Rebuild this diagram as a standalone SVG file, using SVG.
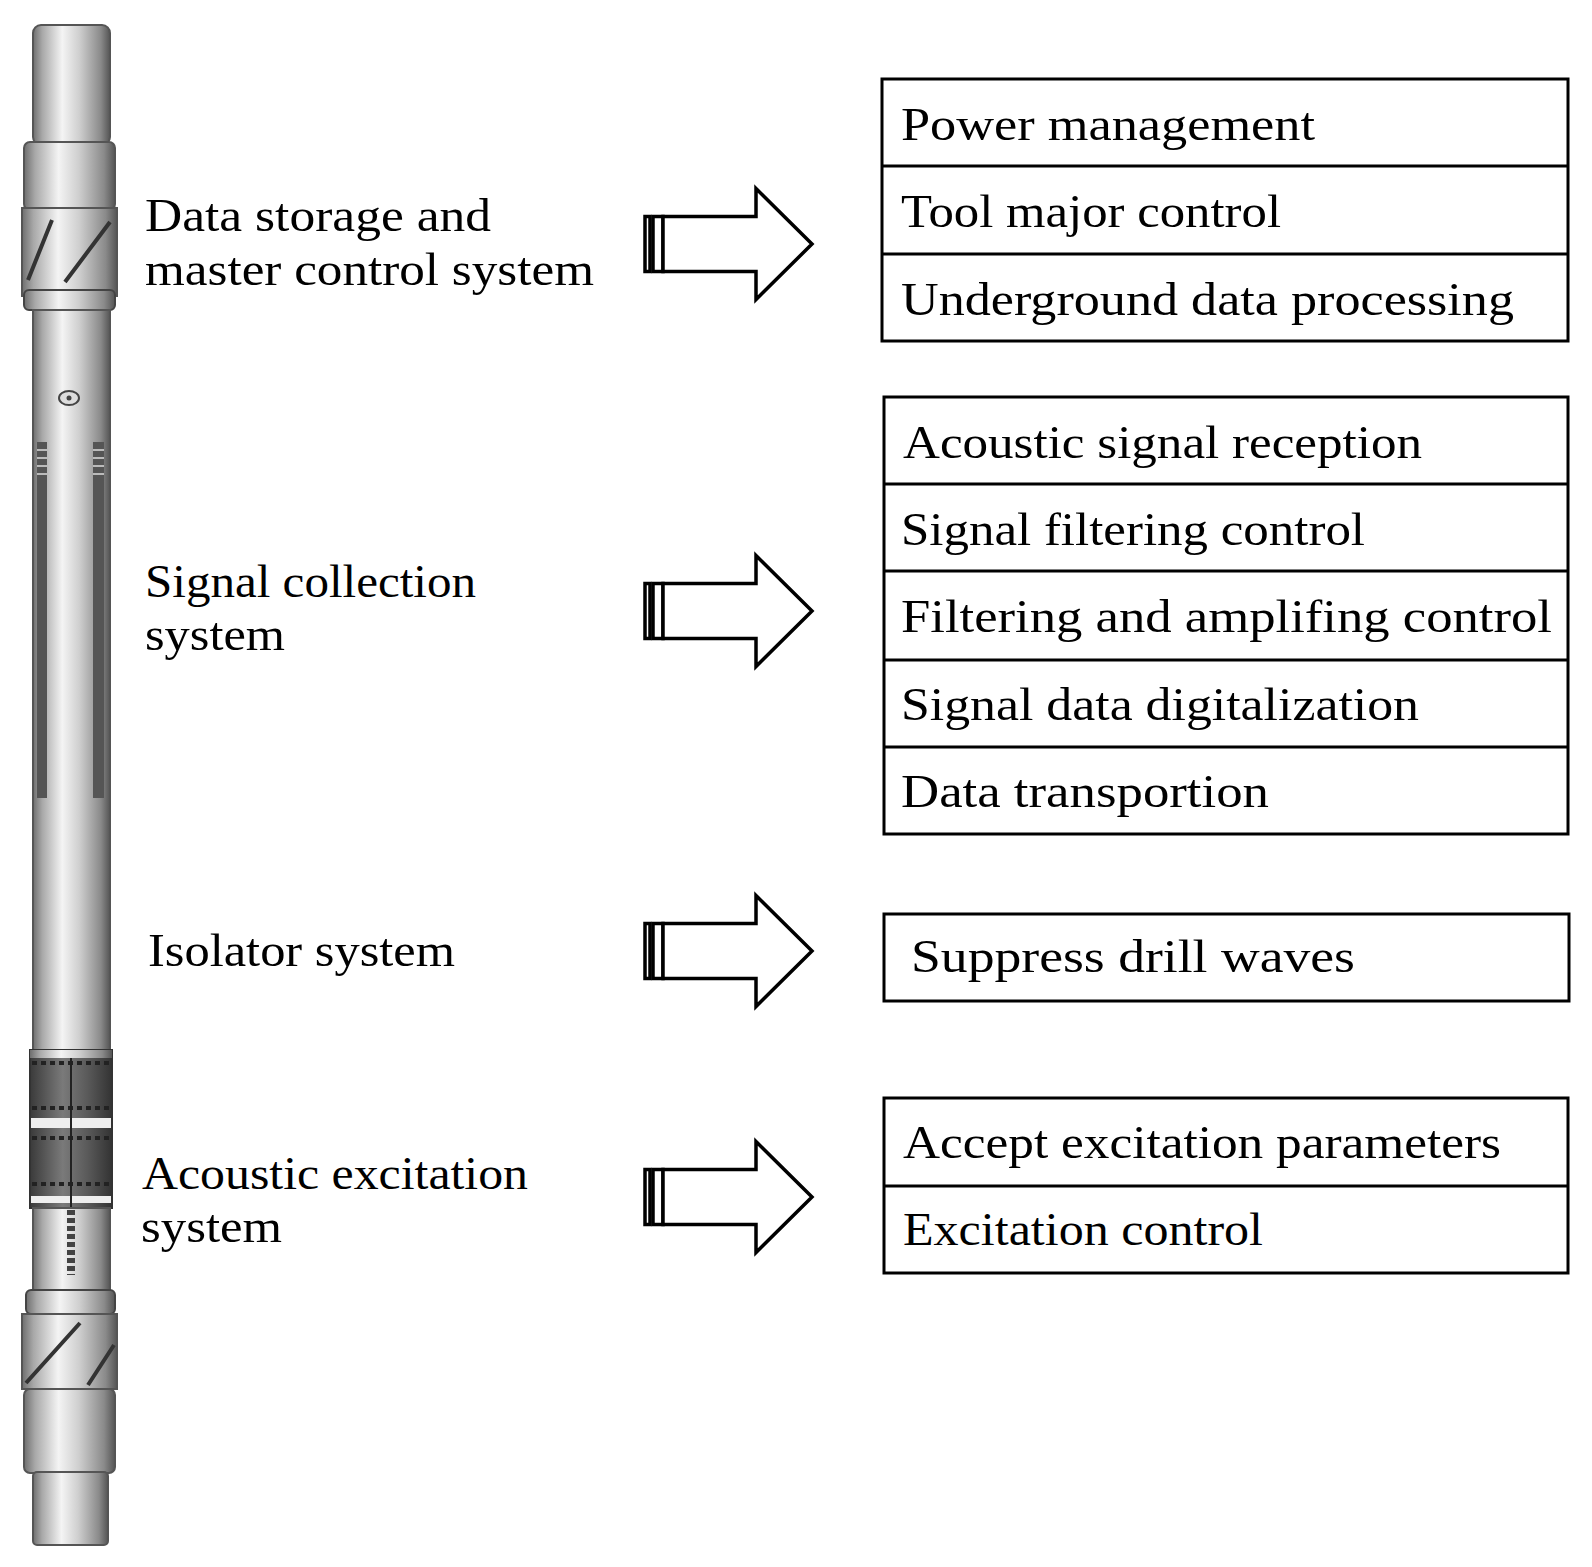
<svg xmlns="http://www.w3.org/2000/svg" width="1592" height="1567" viewBox="0 0 1592 1567">
<defs>
<linearGradient id="metal" x1="0" y1="0" x2="1" y2="0">
<stop offset="0" stop-color="#6e6e6e"/><stop offset="0.12" stop-color="#a8a8a8"/><stop offset="0.38" stop-color="#f4f4f4"/><stop offset="0.6" stop-color="#cfcfcf"/><stop offset="0.88" stop-color="#8a8a8a"/><stop offset="1" stop-color="#555"/>
</linearGradient>
<linearGradient id="dark" x1="0" y1="0" x2="1" y2="0">
<stop offset="0" stop-color="#3a3a3a"/><stop offset="0.4" stop-color="#7a7a7a"/><stop offset="0.7" stop-color="#5a5a5a"/><stop offset="1" stop-color="#333"/>
</linearGradient>
<g id="arrow">
<rect x="645" y="-27.5" width="5" height="55" fill="#fff" stroke="#000" stroke-width="3.5"/>
<rect x="653" y="-27.5" width="10" height="55" fill="#fff" stroke="#000" stroke-width="3.5"/>
<path d="M663,-27.5 H756 V-55.5 L812,0 L756,55.5 V27.5 H663 Z" fill="#fff" stroke="#000" stroke-width="3.5" stroke-linejoin="miter"/>
</g>
</defs>
<style>
text{font-family:"Liberation Serif","Times New Roman",serif;font-size:46px;fill:#000}
.box{fill:#fff;stroke:#000;stroke-width:3}
.div{stroke:#000;stroke-width:3}
.m{stroke:#444;stroke-width:2}
</style>
<rect width="1592" height="1567" fill="#fff"/>
<g id="tool">
<rect x="33" y="25" width="77" height="120" rx="8" fill="url(#metal)" stroke="#555" stroke-width="2"/>
<rect x="24" y="142" width="91" height="68" rx="6" fill="url(#metal)" stroke="#555" stroke-width="2"/>
<rect x="22" y="208" width="95" height="88" fill="url(#metal)" stroke="#555" stroke-width="2"/>
<path d="M28,280 L52,220 M65,282 L110,222" stroke="#333" stroke-width="4"/>
<rect x="24" y="290" width="91" height="20" rx="5" fill="url(#metal)" stroke="#444" stroke-width="2"/>
<rect x="33" y="310" width="77" height="742" fill="url(#metal)" stroke="#555" stroke-width="2"/>
<ellipse cx="69" cy="398" rx="10" ry="7" fill="#ddd" stroke="#444" stroke-width="2"/>
<circle cx="69" cy="398" r="2.5" fill="#444"/>
<rect x="37" y="442" width="10" height="356" fill="#555"/>
<rect x="93" y="442" width="11" height="356" fill="#555"/>
<path d="M37,450 h10 M37,458 h10 M37,466 h10 M37,474 h10 M93,450 h11 M93,458 h11 M93,466 h11 M93,474 h11" stroke="#bbb" stroke-width="2"/>
<rect x="30" y="1050" width="82" height="158" fill="url(#dark)" stroke="#333" stroke-width="2"/>
<rect x="30" y="1050" width="82" height="8" fill="url(#metal)"/>
<rect x="31" y="1118" width="80" height="10" fill="#eee"/>
<rect x="31" y="1196" width="80" height="7" fill="#eee"/>
<path d="M32,1063 h78 M32,1108 h78 M32,1138 h78 M32,1184 h78" stroke="#222" stroke-width="4" stroke-dasharray="5,4"/>
<line x1="71" y1="1058" x2="71" y2="1208" stroke="#222" stroke-width="2"/>
<rect x="33" y="1208" width="77" height="105" fill="url(#metal)" stroke="#555" stroke-width="2"/>
<line x1="71" y1="1210" x2="71" y2="1275" stroke="#444" stroke-width="8" stroke-dasharray="5,3"/>
<rect x="26" y="1290" width="89" height="24" rx="5" fill="url(#metal)" stroke="#444" stroke-width="2"/>
<rect x="22" y="1314" width="95" height="75" fill="url(#metal)" stroke="#555" stroke-width="2"/>
<path d="M26,1383 L80,1323 M88,1385 L114,1345" stroke="#333" stroke-width="4"/>
<rect x="24" y="1389" width="91" height="84" rx="6" fill="url(#metal)" stroke="#555" stroke-width="2"/>
<rect x="33" y="1472" width="75" height="73" rx="4" fill="url(#metal)" stroke="#555" stroke-width="2"/>
</g>
<g id="labels">
<text x="145" y="231" textLength="346" lengthAdjust="spacingAndGlyphs">Data storage and</text>
<text x="145" y="285" textLength="449" lengthAdjust="spacingAndGlyphs">master control system</text>
<text x="145" y="597" textLength="331" lengthAdjust="spacingAndGlyphs">Signal collection</text>
<text x="145" y="650" textLength="140" lengthAdjust="spacingAndGlyphs">system</text>
<text x="148" y="966" textLength="307" lengthAdjust="spacingAndGlyphs">Isolator system</text>
<text x="142" y="1189" textLength="386" lengthAdjust="spacingAndGlyphs">Acoustic excitation</text>
<text x="141" y="1242" textLength="141" lengthAdjust="spacingAndGlyphs">system</text>
</g>
<g id="connectors">
<use href="#arrow" y="244"/>
<use href="#arrow" y="611"/>
<use href="#arrow" y="951"/>
<use href="#arrow" y="1197"/>
</g>
<g id="box1">
<rect class="box" x="882" y="79" width="686" height="262"/>
<line class="div" x1="882" y1="166" x2="1568" y2="166"/>
<line class="div" x1="882" y1="254" x2="1568" y2="254"/>
<text x="901" y="140" textLength="414" lengthAdjust="spacingAndGlyphs">Power management</text>
<text x="901" y="227" textLength="380" lengthAdjust="spacingAndGlyphs">Tool major control</text>
<text x="901" y="315" textLength="613" lengthAdjust="spacingAndGlyphs">Underground data processing</text>
</g>
<g id="box2">
<rect class="box" x="884" y="397" width="684" height="437"/>
<line class="div" x1="884" y1="484" x2="1568" y2="484"/>
<line class="div" x1="884" y1="571" x2="1568" y2="571"/>
<line class="div" x1="884" y1="660" x2="1568" y2="660"/>
<line class="div" x1="884" y1="747" x2="1568" y2="747"/>
<text x="903" y="458" textLength="519" lengthAdjust="spacingAndGlyphs">Acoustic signal reception</text>
<text x="901" y="545" textLength="464" lengthAdjust="spacingAndGlyphs">Signal filtering control</text>
<text x="901" y="632" textLength="651" lengthAdjust="spacingAndGlyphs">Filtering  and amplifing control</text>
<text x="901" y="720" textLength="518" lengthAdjust="spacingAndGlyphs">Signal data digitalization</text>
<text x="901" y="807" textLength="368" lengthAdjust="spacingAndGlyphs">Data transportion</text>
</g>
<g id="box3">
<rect class="box" x="884" y="914" width="685" height="87"/>
<text x="911" y="972" textLength="444" lengthAdjust="spacingAndGlyphs">Suppress  drill waves</text>
</g>
<g id="box4">
<rect class="box" x="884" y="1098" width="684" height="175"/>
<line class="div" x1="884" y1="1186" x2="1568" y2="1186"/>
<text x="903" y="1158" textLength="598" lengthAdjust="spacingAndGlyphs">Accept excitation parameters</text>
<text x="903" y="1245" textLength="360" lengthAdjust="spacingAndGlyphs">Excitation control</text>
</g>
</svg>
